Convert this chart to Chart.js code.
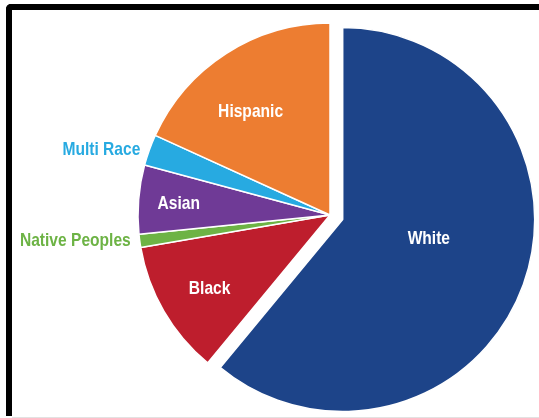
<!DOCTYPE html>
<html>
<head>
<meta charset="utf-8">
<script src="https://cdn.jsdelivr.net/npm/chart.js@4/dist/chart.umd.min.js"></script>
<style>
  html, body { margin: 0; padding: 0; width: 539px; height: 418px; overflow: hidden; background: #fff; }
  #frame {
    position: absolute; left: 6px; top: 4px; width: 600px; height: 412px;
    border-left: 6px solid #000; border-top: 6px solid #000;
    border-top-left-radius: 5px; box-sizing: border-box;
  }
  #baseline { position: absolute; left: 12px; top: 417px; width: 527px; height: 1px; background: #e2e2e2; }
  #chart { position: absolute; left: 0; top: 0; }
</style>
</head>
<body>
<div id="frame"></div>
<div id="baseline"></div>
<canvas id="chart" width="539" height="418"></canvas>
<script>
// share of population (clockwise from 12 o'clock)
var categories = ['White', 'Black', 'Native Peoples', 'Asian', 'Multi Race', 'Hispanic'];
var shares = [61.0, 11.3, 1.1, 5.8, 2.6, 18.2];

var sliceColors = ['#1d4489', '#be1e2d', '#6db345', '#6f3a96', '#27aae1', '#ed7d31'];
var labelColors = ['#ffffff', '#ffffff', '#6db345', '#ffffff', '#27aae1', '#ffffff'];
// where the label sits: fraction of the radius, or 'out' for labels left of the pie
var labelSpots = [0.46, 0.735, 'out', 0.79, 'out', 0.68];
// small turn (degrees) away from the slice's middle angle
var labelTurn = [-7, -1.4, 0, -0.4, 0, -4.7];

// no narrow font installed, so squeeze Liberation Sans Bold like Arial Narrow
var labelFont = 'bold 19px "Liberation Sans", Arial, sans-serif';
var squeeze = 0.82;

// pull the White slice out from the centre, along its middle angle
var explodePlugin = {
    id: 'explode',
    afterDatasetUpdate: function(chart, args) {
        var arc = chart.getDatasetMeta(args.index).data[0];
        var mid = (arc.startAngle + arc.endAngle) / 2;
        arc.x += Math.cos(mid) * 13.5;
        arc.y += Math.sin(mid) * 13.5;
    }
};

function drawLabel(ctx, text, x, y, align) {
    ctx.save();
    ctx.translate(x, y);
    ctx.scale(squeeze, 1);
    ctx.textAlign = align;
    ctx.fillText(text, 0, 0);
    ctx.restore();
}

var labelPlugin = {
    id: 'sliceLabels',
    afterDatasetsDraw: function(chart) {
        var ctx = chart.ctx;
        var arcs = chart.getDatasetMeta(0).data;
        ctx.save();
        ctx.font = labelFont;
        ctx.textBaseline = 'middle';
        arcs.forEach(function(arc, i) {
            var mid = (arc.startAngle + arc.endAngle) / 2;
            var r = arc.outerRadius;
            ctx.fillStyle = labelColors[i];
            if (labelSpots[i] === 'out') {
                drawLabel(ctx, categories[i], arc.x + Math.cos(mid) * r - 9, arc.y + Math.sin(mid) * r, 'right');
            } else {
                var a = mid + labelTurn[i] * Math.PI / 180;
                drawLabel(ctx, categories[i], arc.x + Math.cos(a) * r * labelSpots[i],
                          arc.y + Math.sin(a) * r * labelSpots[i], 'center');
            }
        });
        ctx.restore();
    }
};

var ctx = document.getElementById('chart').getContext('2d');
var pieChart = new Chart(ctx, {
    type: 'pie',
    data: {
        labels: categories,
        datasets: [{
            data: shares,
            backgroundColor: sliceColors,
            borderColor: '#ffffff',
            borderWidth: 1.5
        }]
    },
    options: {
        responsive: false,
        animation: false,
        events: [],
        radius: 192,
        layout: { padding: { left: 121, right: 0, top: 12, bottom: 0 } },
        plugins: {
            legend: { display: false },
            tooltip: { enabled: false }
        }
    },
    plugins: [explodePlugin, labelPlugin]
});
</script>
</body>
</html>
